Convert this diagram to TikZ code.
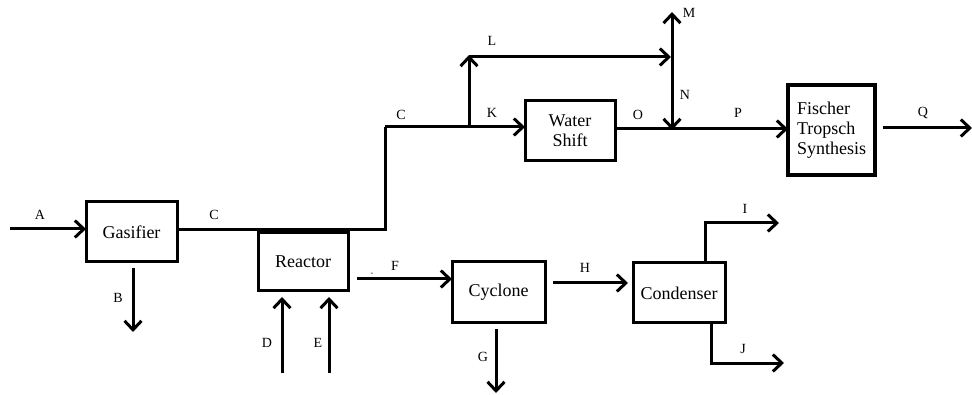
\documentclass[tikz,border=0pt]{standalone}
\usepackage{fontspec}
\setmainfont{Liberation Serif}
\usetikzlibrary{arrows.meta}
\begin{document}
\begin{tikzpicture}[x=1pt,y=-1pt,
  box/.style={draw,line width=3pt,inner sep=0pt,outer sep=0pt,align=center,
    font=\fontsize{18}{20}\selectfont},
  lbl/.style={font=\fontsize{14}{16}\selectfont,inner sep=0pt},
  flow/.style={line width=3pt},
  arr/.style={line width=3pt,-{Straight Barb[length=9pt,width=17pt]}},
  twoarr/.style={line width=3pt,{Straight Barb[length=9pt,width=17pt]}-{Straight Barb[length=9pt,width=17pt]}}]
\useasboundingbox (0,0) rectangle (972,395);
% boxes
\node[box,minimum width=91pt,minimum height=60pt] (gas) at (131.5,232) {Gasifier};
\node[box,minimum width=90pt,minimum height=58pt] (rea) at (303,262) {Reactor};
\node[box,minimum width=93pt,minimum height=61pt] (cyc) at (498.5,292.5) {Cyclone};
\node[box,minimum width=92pt,minimum height=60pt] (con) at (679,293) {Condenser};
\node[box,minimum width=90pt,minimum height=60pt] (ws) at (570,131) {Water\\Shift};
\node[box,line width=4pt,minimum width=87pt,minimum height=90pt,align=left] (ft) at (831.5,130) {Fischer\\Tropsch\\Synthesis};
% coordinates
\coordinate (As) at (10,229);
\coordinate (Bs) at (133,268);
\coordinate (Be) at (133,332);
\coordinate (c1) at (385,229.5);
\coordinate (c2) at (385,127);
\coordinate (kl) at (469,127);
\coordinate (lt) at (469,57);
\coordinate (mn) at (672,57);
\coordinate (mtop) at (672,12);
\coordinate (nbot) at (672,130);
\coordinate (Qs) at (883,128);
\coordinate (Qe) at (972,128);
\coordinate (Fs) at (357,279);
\coordinate (Hs) at (553,283);
\coordinate (He) at (628,283);
\coordinate (Gs) at (496,329);
\coordinate (Ge) at (496,393);
\coordinate (Is) at (705,263);
\coordinate (Ic) at (705,223);
\coordinate (Ie) at (779,223);
\coordinate (Js) at (711,323);
\coordinate (Jc) at (711,363);
\coordinate (Je) at (784,363);
\coordinate (Ds) at (282,373);
\coordinate (De) at (282,297);
\coordinate (Es) at (329,373);
\coordinate (Ee) at (329,297);
% connectors
\draw[arr] (As) -- (As -| gas.west);
\draw[arr] (Bs) -- (Be);
\draw[flow] (gas.east |- c1) -- (c1) -- (c2);
\draw[arr] (c2) -- (c2 -| ws.west);
\draw[arr] (kl) -- ([yshift=2pt]lt);
\draw[arr] (lt) -- ([xshift=-1pt]mn);
\draw[twoarr] (mtop) -- (nbot);
\draw[arr] (ws.east |- 0,129) -- (ft.west |- 0,129);
\draw[arr] (Qs) -- (Qe);
\draw[arr] (Fs) -- (Fs -| cyc.west);
\draw[arr] (Hs) -- (He);
\draw[arr] (Gs) -- (Ge);
\draw[arr] (Is) -- (Ic) -- (Ie);
\draw[arr] (Js) -- (Jc) -- (Je);
\draw[arr] (Ds) -- (De);
\draw[arr] (Es) -- (Ee);
% labels
\node[lbl] (lA) at (40,215) {A};
\node[lbl] (lB) at (118,298) {B};
\node[lbl] (lC1) at (214,215) {C};
\node[lbl] (lD) at (267,343) {D};
\node[lbl] (lE) at (318,343) {E};
\node[lbl] (lF) at (395,266) {F};
\node[lbl,font=\fontsize{8}{8}\selectfont] (ldash) at (372,274) {-};
\node[lbl] (lG) at (483,357) {G};
\node[lbl] (lH) at (585,268) {H};
\node[lbl] (lI) at (745,209) {I};
\node[lbl] (lJ) at (743,349) {J};
\node[lbl] (lC2) at (401,115) {C};
\node[lbl] (lK) at (492,113) {K};
\node[lbl] (lL) at (492,41) {L};
\node[lbl] (lO) at (638,115) {O};
\node[lbl] (lM) at (689,13) {M};
\node[lbl] (lN) at (685,95) {N};
\node[lbl] (lP) at (738,113) {P};
\node[lbl] (lQ) at (923,113) {Q};
\end{tikzpicture}
\end{document}
